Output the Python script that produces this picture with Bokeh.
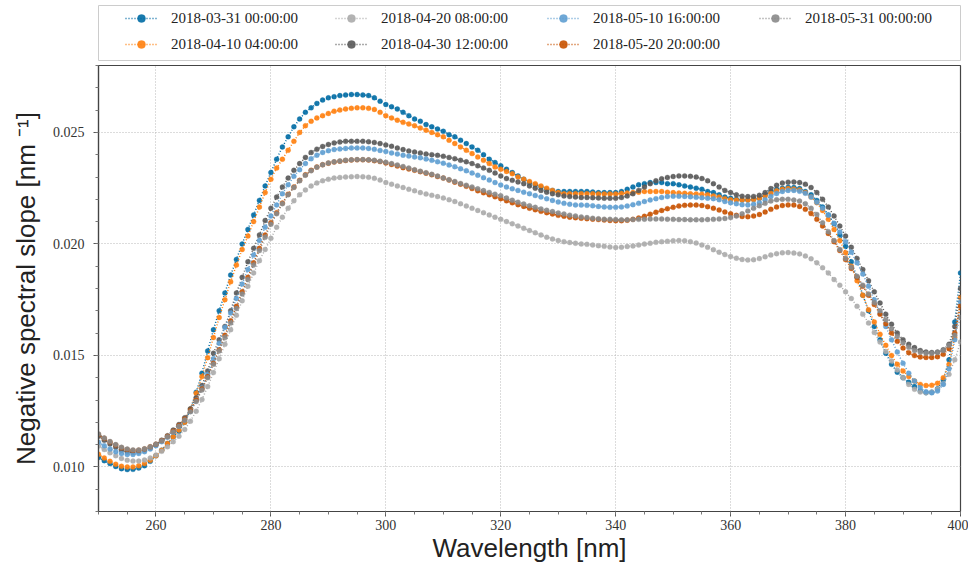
from bokeh.plotting import figure
from bokeh.layouts import column
from bokeh.models import (Legend, LegendItem, ColumnDataSource, SingleIntervalTicker,
                          Range1d, NumeralTickFormatter)
from bokeh.embed import file_html
from bokeh.resources import INLINE

# ---------------- data ----------------
wavelength = list(range(250, 401))

labels = ["2018-03-31 00:00:00", "2018-04-10 04:00:00", "2018-04-20 08:00:00",
          "2018-04-30 12:00:00", "2018-05-10 16:00:00", "2018-05-20 20:00:00",
          "2018-05-31 00:00:00"]
colors = ["#006BA4", "#FF800E", "#ABABAB", "#595959", "#5F9ED1", "#C85200", "#898989"]

s_0331 = [
    0.01042, 0.01028, 0.01015, 0.01002, 0.00992, 0.00988, 0.00989, 0.00995, 0.01005, 0.01025,
    0.0105, 0.01075, 0.01105, 0.01135, 0.0116, 0.0120, 0.0126, 0.01335, 0.0142, 0.0152,
    0.01615, 0.0170, 0.0178, 0.0186, 0.0193, 0.0200, 0.02065, 0.0213, 0.02195, 0.0226,
    0.0232, 0.0238, 0.02435, 0.0248, 0.02525, 0.0256, 0.0259, 0.0261, 0.0263, 0.02645,
    0.02655, 0.0266, 0.02665, 0.02668, 0.0267, 0.0267, 0.02668, 0.02665, 0.02655, 0.0264,
    0.02625, 0.02615, 0.02605, 0.0259, 0.02575, 0.0256, 0.0255, 0.02535, 0.02525, 0.02515,
    0.02505, 0.0249, 0.0248, 0.02465, 0.0245, 0.02435, 0.0242, 0.0240, 0.0238, 0.02365,
    0.0235, 0.02335, 0.0232, 0.02305, 0.0229, 0.02275, 0.02265, 0.02255, 0.02245, 0.0224,
    0.02235, 0.02235, 0.02235, 0.02235, 0.02235, 0.02235, 0.02233, 0.0223, 0.0223, 0.0223,
    0.0223, 0.02235, 0.02245, 0.02255, 0.02265, 0.0227, 0.02275, 0.02275, 0.02275, 0.0227,
    0.0227, 0.02265, 0.0226, 0.02255, 0.0225, 0.02245, 0.02235, 0.0223, 0.0222, 0.0221,
    0.02205, 0.022, 0.02197, 0.02197, 0.022, 0.02205, 0.0222, 0.02235, 0.02245, 0.0225,
    0.02254, 0.02253, 0.02248, 0.02235, 0.0222, 0.02195, 0.02165, 0.0213, 0.0209, 0.0204,
    0.0199, 0.0192, 0.0185, 0.0177, 0.0170, 0.0163, 0.0157, 0.0151, 0.0146, 0.01425,
    0.0140, 0.0138, 0.0136, 0.0134, 0.01333, 0.01335, 0.0135, 0.0139, 0.0148, 0.0165,
    0.0187]

s_0410 = [
    0.01057, 0.0104, 0.01025, 0.01012, 0.01003, 0.0100, 0.0100, 0.01005, 0.01015, 0.0103,
    0.0105, 0.01075, 0.01105, 0.01135, 0.01165, 0.0120, 0.0126, 0.0133, 0.01405, 0.0149,
    0.0158, 0.0167, 0.0175, 0.0183, 0.01905, 0.01975, 0.02035, 0.0210, 0.02165, 0.0223,
    0.0229, 0.0234, 0.0238, 0.0242, 0.0246, 0.0250, 0.0253, 0.0255, 0.02565, 0.02575,
    0.02585, 0.02595, 0.026, 0.02605, 0.02608, 0.0261, 0.0261, 0.02608, 0.02603, 0.0259,
    0.02575, 0.02565, 0.02555, 0.02545, 0.02538, 0.0253, 0.0252, 0.0251, 0.025, 0.0249,
    0.0248, 0.02465, 0.0245, 0.02435, 0.0242, 0.02405, 0.0239, 0.02375, 0.0236, 0.02345,
    0.02335, 0.02325, 0.02315, 0.023, 0.0229, 0.0228, 0.0227, 0.0226, 0.0225, 0.0224,
    0.0223, 0.02225, 0.02225, 0.02225, 0.02225, 0.02225, 0.02225, 0.02224, 0.02224, 0.02224,
    0.02224, 0.02226, 0.02228, 0.0223, 0.02232, 0.02235, 0.02235, 0.02235, 0.02235, 0.02232,
    0.0223, 0.02228, 0.02227, 0.02225, 0.02224, 0.02223, 0.0222, 0.02215, 0.0221, 0.02203,
    0.02198, 0.02197, 0.02197, 0.02197, 0.02199, 0.02205, 0.02215, 0.02227, 0.02238, 0.02245,
    0.02248, 0.02246, 0.02242, 0.0223, 0.0221, 0.02185, 0.0215, 0.0211, 0.02065, 0.02015,
    0.0196, 0.0190, 0.01835, 0.0177, 0.01705, 0.0165, 0.01595, 0.01545, 0.0150, 0.0146,
    0.0143, 0.01405, 0.01385, 0.0137, 0.01365, 0.01366, 0.01375, 0.0140, 0.0146, 0.0158,
    0.0176]

s_0420 = [
    0.01094, 0.01078, 0.01063, 0.0105, 0.01038, 0.0103, 0.01026, 0.01026, 0.01031, 0.0104,
    0.01053, 0.0107, 0.0109, 0.01113, 0.01138, 0.01168, 0.01205, 0.0125, 0.01302, 0.0136,
    0.01423, 0.01485, 0.0155, 0.01615, 0.0168, 0.01745, 0.0181, 0.0187, 0.01925, 0.01975,
    0.02025, 0.02075, 0.0212, 0.0216, 0.02193, 0.0222, 0.02242, 0.0226, 0.02273, 0.02283,
    0.0229, 0.02295, 0.02298, 0.023, 0.02301, 0.02302, 0.02301, 0.02299, 0.02294, 0.02286,
    0.02275, 0.02268, 0.0226, 0.02253, 0.02245, 0.02238, 0.0223, 0.02224, 0.02218, 0.02212,
    0.02206, 0.02198, 0.0219, 0.0218, 0.0217, 0.0216, 0.0215, 0.0214, 0.0213, 0.0212,
    0.0211, 0.021, 0.0209, 0.0208, 0.0207, 0.0206, 0.0205, 0.0204, 0.0203, 0.02022,
    0.02015, 0.0201, 0.02006, 0.02003, 0.02, 0.01998, 0.01995, 0.01992, 0.01989, 0.01986,
    0.01984, 0.01985, 0.01988, 0.01991, 0.01995, 0.01999, 0.02003, 0.02007, 0.0201, 0.02012,
    0.02014, 0.02015, 0.02014, 0.0201, 0.02004, 0.01995, 0.01985, 0.01974, 0.01963, 0.01952,
    0.01943, 0.01936, 0.0193, 0.01928, 0.01929, 0.01934, 0.01942, 0.0195, 0.01956, 0.0196,
    0.01961, 0.01959, 0.01955, 0.01946, 0.01933, 0.01915, 0.01893, 0.0187, 0.0184, 0.01815,
    0.01785, 0.01755, 0.0172, 0.01685, 0.01645, 0.01603, 0.0156, 0.01517, 0.01475, 0.01435,
    0.014, 0.0137, 0.01348, 0.01336, 0.01333, 0.01336, 0.01348, 0.01373, 0.01415, 0.0148,
    0.0156]

s_0430 = [
    0.01138, 0.0112, 0.01103, 0.01088, 0.01075, 0.01067, 0.01065, 0.01068, 0.01075, 0.01085,
    0.011, 0.0112, 0.0114, 0.01165, 0.0119, 0.0122, 0.0126, 0.0131, 0.01365, 0.0143,
    0.0151, 0.0157, 0.0163, 0.0170, 0.0178, 0.0185, 0.0192, 0.0198, 0.0204, 0.02105,
    0.0216, 0.0221, 0.02255, 0.02295, 0.0233, 0.0236, 0.02388, 0.0241, 0.02425, 0.02437,
    0.02446, 0.02453, 0.02457, 0.0246, 0.0246, 0.0246, 0.0246, 0.02458, 0.02455, 0.0245,
    0.02444, 0.02438, 0.0243, 0.02423, 0.02417, 0.02412, 0.02408, 0.02403, 0.024, 0.02397,
    0.02393, 0.02388, 0.02382, 0.02375, 0.02368, 0.0236, 0.0235, 0.0234, 0.0233, 0.02318,
    0.02305, 0.02293, 0.02285, 0.02278, 0.0227, 0.0226, 0.0225, 0.0224, 0.02232, 0.02225,
    0.0222, 0.02215, 0.02212, 0.0221, 0.02208, 0.02208, 0.02207, 0.02206, 0.02205, 0.02205,
    0.02205, 0.02208, 0.02215, 0.02225, 0.0224, 0.02255, 0.0227, 0.02283, 0.02292, 0.02298,
    0.02302, 0.02305, 0.02305, 0.02303, 0.023, 0.02293, 0.02283, 0.0227, 0.02255, 0.0224,
    0.0223, 0.0222, 0.02214, 0.02212, 0.02213, 0.02218, 0.0223, 0.02248, 0.02263, 0.02273,
    0.02277, 0.02278, 0.02275, 0.02268, 0.02253, 0.0223, 0.022, 0.02165, 0.02125, 0.0208,
    0.02035, 0.01985, 0.01935, 0.01885, 0.01835, 0.01785, 0.01735, 0.01685, 0.0164, 0.0160,
    0.0157, 0.0155, 0.01535, 0.01522, 0.01515, 0.01513, 0.01515, 0.01525, 0.0155, 0.0163,
    0.0180]

s_0510 = [
    0.0111, 0.01095, 0.0108, 0.01068, 0.0106, 0.01056, 0.01056, 0.0106, 0.01068, 0.0108,
    0.01095, 0.01113, 0.01133, 0.01157, 0.01182, 0.0121, 0.0125, 0.013, 0.01355, 0.01415,
    0.01485, 0.01555, 0.01625, 0.0169, 0.01755, 0.0182, 0.01885, 0.0195, 0.02015, 0.02075,
    0.02125, 0.02175, 0.02225, 0.02265, 0.02303, 0.02333, 0.0236, 0.02382, 0.02398, 0.0241,
    0.02418, 0.02423, 0.02426, 0.02428, 0.0243, 0.0243, 0.0243, 0.02428, 0.02424, 0.02419,
    0.02414, 0.02408, 0.02403, 0.02398, 0.02394, 0.0239, 0.02386, 0.02381, 0.02375, 0.02368,
    0.02362, 0.02354, 0.02346, 0.02337, 0.02328, 0.02318, 0.02308, 0.02297, 0.02286, 0.02275,
    0.02264, 0.02255, 0.02247, 0.0224, 0.02232, 0.02225, 0.02217, 0.0221, 0.02202, 0.02195,
    0.02188, 0.02182, 0.02178, 0.02175, 0.02174, 0.02173, 0.02171, 0.02168, 0.02166, 0.02164,
    0.02164, 0.02166, 0.0217, 0.02176, 0.02182, 0.0219, 0.02197, 0.02203, 0.02208, 0.02212,
    0.02214, 0.02214, 0.02213, 0.02211, 0.02209, 0.02207, 0.02205, 0.02203, 0.02198, 0.0219,
    0.02184, 0.0218, 0.02176, 0.02175, 0.02178, 0.02185, 0.02198, 0.02213, 0.02226, 0.02235,
    0.0224, 0.0224, 0.02236, 0.02227, 0.0221, 0.02187, 0.0216, 0.02128, 0.02093, 0.02053,
    0.0201, 0.01963, 0.01915, 0.01865, 0.0181, 0.0175, 0.0169, 0.0163, 0.0157, 0.01515,
    0.01465, 0.0142, 0.01385, 0.01355, 0.01337, 0.01332, 0.0134, 0.0137, 0.0144, 0.0157,
    0.0174]

s_0520 = [
    0.01145, 0.01128, 0.01112, 0.01098, 0.01086, 0.01078, 0.01074, 0.01075, 0.0108, 0.0109,
    0.01102, 0.01118, 0.01137, 0.0116, 0.01186, 0.01215, 0.01253, 0.013, 0.0135, 0.01405,
    0.01465, 0.01525, 0.0159, 0.01655, 0.0172, 0.01785, 0.0185, 0.01915, 0.0198, 0.0204,
    0.02095, 0.0214, 0.02183, 0.02223, 0.02255, 0.02285, 0.0231, 0.0233, 0.02345, 0.02355,
    0.02362, 0.02367, 0.02371, 0.02374, 0.02376, 0.02377, 0.02377, 0.02376, 0.02373, 0.02369,
    0.02363, 0.02356, 0.02349, 0.02342, 0.02336, 0.0233, 0.02324, 0.02317, 0.0231, 0.02302,
    0.02295, 0.02286, 0.02277, 0.02268, 0.02258, 0.02248, 0.02238, 0.02229, 0.0222, 0.02211,
    0.02203, 0.02193, 0.02184, 0.02176, 0.02168, 0.0216, 0.02153, 0.02146, 0.0214, 0.02134,
    0.02128, 0.02124, 0.0212, 0.02117, 0.02115, 0.02113, 0.02111, 0.02109, 0.02107, 0.02105,
    0.02104, 0.02104, 0.02106, 0.0211, 0.02116, 0.02124, 0.02133, 0.02142, 0.0215, 0.02158,
    0.02164, 0.0217, 0.02173, 0.02174, 0.02174, 0.02172, 0.02167, 0.0216, 0.02152, 0.02143,
    0.02135, 0.02128, 0.02123, 0.02122, 0.02125, 0.02132, 0.02143, 0.02155, 0.02165, 0.02172,
    0.02175, 0.02174, 0.02168, 0.02155, 0.02136, 0.0211, 0.0208, 0.02047, 0.0201, 0.0197,
    0.0193, 0.0189, 0.0185, 0.0181, 0.0177, 0.01728, 0.01685, 0.01642, 0.016, 0.01563,
    0.01533, 0.01512, 0.01499, 0.01493, 0.01491, 0.01491, 0.01494, 0.01505, 0.0153, 0.016,
    0.0172]

s_0531 = [
    0.01148, 0.0113, 0.01114, 0.011, 0.01088, 0.0108, 0.01076, 0.01076, 0.01081, 0.0109,
    0.01102, 0.01117, 0.01135, 0.01157, 0.01182, 0.0121, 0.01247, 0.01293, 0.01345, 0.014,
    0.0146, 0.0152, 0.0158, 0.01645, 0.0171, 0.01775, 0.0184, 0.01905, 0.0197, 0.0203,
    0.02088, 0.02135, 0.0218, 0.0222, 0.02253, 0.02283, 0.02308, 0.02328, 0.02344, 0.02355,
    0.02363, 0.02368, 0.02372, 0.02375, 0.02377, 0.02378, 0.02378, 0.02377, 0.02375, 0.02371,
    0.02366, 0.0236, 0.02354, 0.02347, 0.0234, 0.02333, 0.02326, 0.02319, 0.02312, 0.02304,
    0.02296, 0.02288, 0.0228, 0.02271, 0.02263, 0.02255, 0.02247, 0.02239, 0.02231, 0.02223,
    0.02216, 0.02206, 0.02196, 0.02187, 0.02179, 0.02171, 0.02164, 0.02157, 0.02151, 0.02145,
    0.02139, 0.02134, 0.02129, 0.02125, 0.02121, 0.02118, 0.02115, 0.02113, 0.02111, 0.0211,
    0.02109, 0.02108, 0.02108, 0.02109, 0.0211, 0.02111, 0.02112, 0.02112, 0.02112, 0.02111,
    0.0211, 0.02109, 0.02109, 0.02108, 0.02108, 0.02108, 0.02109, 0.0211, 0.02112, 0.02114,
    0.02118, 0.02125, 0.02135, 0.02148, 0.0216, 0.02171, 0.02182, 0.02192, 0.02198, 0.022,
    0.022, 0.02197, 0.02192, 0.0218, 0.0216, 0.02132, 0.02095, 0.02055, 0.02015, 0.01975,
    0.01935, 0.01895, 0.01855, 0.01815, 0.01775, 0.01737, 0.017, 0.0166, 0.0162, 0.01585,
    0.01557, 0.01536, 0.01522, 0.01514, 0.0151, 0.0151, 0.01513, 0.01522, 0.01545, 0.0159,
    0.0167]

series = [s_0331, s_0410, s_0420, s_0430, s_0510, s_0520, s_0531]

x_ticks_interval = 20
y_ticks_interval = 0.005

# ---------------- main figure ----------------
p = figure(width=968, height=503,
           x_range=Range1d(250, 400), y_range=Range1d(0.008, 0.028),
           output_backend="svg", toolbar_location=None,
           min_border_left=98, min_border_right=8, min_border_top=3,
           min_border_bottom=0)

p.background_fill_color = "white"
p.border_fill_color = "white"
p.outline_line_color = "#444444"
p.outline_line_width = 1.2

p.xaxis.ticker = SingleIntervalTicker(interval=x_ticks_interval, num_minor_ticks=4)
p.yaxis.ticker = SingleIntervalTicker(interval=y_ticks_interval, num_minor_ticks=5)
p.yaxis.formatter = NumeralTickFormatter(format="0.000")

for ax in (p.xaxis, p.yaxis):
    ax.axis_line_color = "#444444"
    ax.axis_line_width = 1.2
    ax.major_tick_in = 0
    ax.major_tick_out = 5
    ax.minor_tick_in = 0
    ax.minor_tick_out = 3
    ax.major_tick_line_color = "#555555"
    ax.minor_tick_line_color = "#777777"
    ax.major_label_text_font = "Liberation Serif"
    ax.major_label_text_font_size = "14px"
    ax.major_label_text_color = "#333333"
    ax.major_label_text_line_height = 1.0
    ax.axis_label_text_font = "Liberation Sans"
    ax.axis_label_text_font_size = "26px"
    ax.axis_label_text_font_style = "normal"
    ax.axis_label_text_color = "#222222"
    ax.axis_label_text_line_height = 1.0

p.xaxis.axis_label = "Wavelength [nm]"
p.yaxis.axis_label = "Negative spectral slope [nm \u207b\u00b9]"
p.xaxis.major_label_standoff = 3
p.xaxis.axis_label_standoff = 0
p.yaxis.major_label_standoff = 9
p.yaxis.axis_label_standoff = 9

p.grid.grid_line_color = "#b0b0b0"
p.grid.grid_line_dash = "1 2"
p.grid.grid_line_width = 0.9

sources = []
for lab, col, vals in zip(labels, colors, series):
    src = ColumnDataSource(dict(x=wavelength, y=vals))
    sources.append(src)
    p.line("x", "y", source=src, line_color=col, line_width=1.5, line_dash="1 2")
    p.scatter("x", "y", source=src, size=5, fill_color=col, line_color=col,
              fill_alpha=0.9, line_alpha=0.6, line_width=0.5)

# ---------------- legend strip (frame = legend box) ----------------
# the strip's ranges hold none of the data, so its renderers only feed the legend
lg = figure(width=968, height=62, x_range=Range1d(0, 1), y_range=Range1d(0, 1),
            x_axis_type=None, y_axis_type=None,
            output_backend="svg", toolbar_location=None,
            min_border_left=98, min_border_right=8, min_border_top=5,
            min_border_bottom=2)
lg.outline_line_color = "#cccccc"
lg.outline_line_width = 1
lg.background_fill_color = "white"
lg.border_fill_color = "white"
lg.grid.visible = False

items = []
for lab, col, src in zip(labels, colors, sources):
    ln = lg.line("x", "y", source=src, line_color=col, line_width=1.5, line_dash="1 2")
    sc = lg.scatter("x", "y", source=src, size=7, fill_color=col, line_color=col,
                    fill_alpha=0.9, line_alpha=0.6, line_width=0.5)
    items.append(LegendItem(label=lab, renderers=[ln, sc]))

col_x = [27, 237, 449, 661]
for i, cx in enumerate(col_x):
    grp = items[2 * i:2 * i + 2]
    cy = 6 if len(grp) == 2 else 32
    leg = Legend(items=grp, orientation="vertical",
                 location=(cx, cy),
                 glyph_width=32, glyph_height=20, label_height=20,
                 label_standoff=14, spacing=6, padding=0, margin=0,
                 label_text_font="Liberation Serif", label_text_font_size="15px",
                 label_text_color="#222222",
                 border_line_color=None, background_fill_alpha=0.0)
    lg.add_layout(leg, "center")

layout = column(lg, p, spacing=0)
open("out.html", "w").write(file_html(layout, INLINE))
